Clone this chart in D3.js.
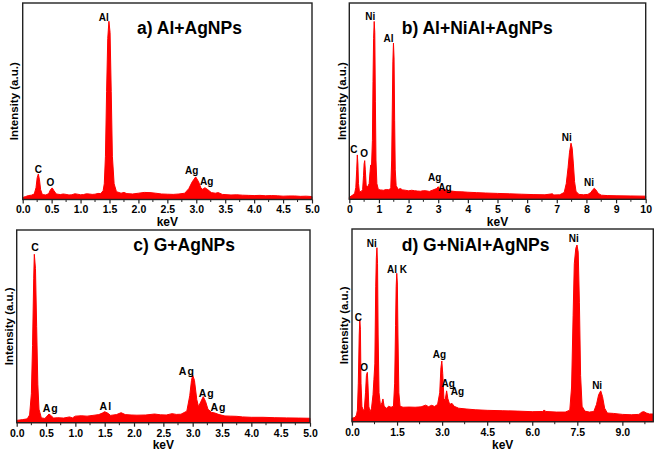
<!DOCTYPE html>
<html><head><meta charset="utf-8">
<script src="https://cdn.jsdelivr.net/npm/d3@7"></script>
<style>
html,body{margin:0;padding:0;background:#fff;}
svg{display:block;font-family:"Liberation Sans",Arial,sans-serif;}
</style></head>
<body>
<svg id="c" width="661" height="451"></svg>
<script>
// ---------- DATA (keV, intensity a.u.) ----------
const aKeV=[0.00,0.05,0.10,0.15,0.20,0.23,0.25,0.27,0.29,0.31,0.34,0.40,0.45,0.48,0.51,0.54,0.58,0.65,0.70,0.75,0.80,0.85,0.90,0.95,1.00,1.05,1.10,1.15,1.20,1.25,1.30,1.35,1.39,1.41,1.43,1.45,1.47,1.49,1.51,1.53,1.55,1.58,1.62,1.70,1.75,1.80,1.90,2.00,2.10,2.20,2.30,2.40,2.50,2.60,2.70,2.80,2.87,2.93,2.99,3.04,3.08,3.11,3.15,3.20,3.26,3.33,3.38,3.45,3.60,3.70,3.80,3.90,4.00,4.10,4.20,4.30,4.40,4.50,4.60,4.70,4.80,4.90,5.00];
const aInt=[1.0,1.5,2.0,2.2,2.8,6,11,13,10,5,2.5,2.3,3,5,5.9,4.5,2.8,2.5,2.8,2.6,2.3,2.4,2.9,2.7,2.4,2.5,2.9,2.8,2.6,2.7,3.1,3.0,4.5,8,22,55,82,90.7,85,55,22,8,4,3.2,3.6,3.0,2.8,3.2,3.6,3.5,3.2,2.8,2.7,2.6,2.8,3.2,5.5,9,11.5,9,5.8,5.2,6,5,3.5,3.2,3.5,2.6,2.3,2.4,2.2,2.1,2.0,2.1,1.9,2.0,1.9,1.7,1.8,1.8,1.6,1.7,1.5];

const bKeV=[0.00,0.10,0.18,0.22,0.25,0.27,0.29,0.31,0.34,0.40,0.45,0.48,0.50,0.52,0.54,0.57,0.62,0.67,0.70,0.72,0.75,0.78,0.80,0.82,0.84,0.86,0.88,0.90,0.93,0.98,1.05,1.15,1.25,1.35,1.40,1.43,1.45,1.47,1.49,1.51,1.53,1.55,1.58,1.65,1.72,1.80,1.90,2.00,2.10,2.20,2.30,2.40,2.50,2.60,2.70,2.80,2.95,3.00,3.05,3.12,3.20,3.30,3.45,3.60,3.80,4.00,4.30,4.60,5.00,5.40,5.80,6.20,6.60,6.85,6.90,7.10,7.25,7.32,7.38,7.43,7.48,7.52,7.56,7.60,7.65,7.75,7.90,8.05,8.15,8.22,8.27,8.32,8.40,8.50,8.70,9.00,9.50,10.00];
const bInt=[1.0,2.0,3.0,6,15,22.6,18,8,4,3.9,5,12,18,19.7,15,7,6.4,8,14,17.5,17,30,60,82,90.6,85,50,20,8,5,4.8,4.6,5,4.8,6,20,45,70,79.6,72,40,15,7,5,5.5,4.8,4.6,4.3,4.6,4.4,4.2,4.1,4.4,4.3,4.0,4.6,5.5,6.4,5,4.8,5,4.6,4.2,3.9,3.8,3.6,3.4,3.2,3.0,2.8,2.6,2.4,2.3,2.8,2.2,2.3,3.5,8,16,24,28.6,26,18,9,4,2.5,2.3,2.5,3.5,5,5.6,4.8,3,2.1,1.9,1.8,1.7,1.6];

const cKeV=[0.00,0.10,0.18,0.22,0.25,0.27,0.29,0.30,0.32,0.34,0.36,0.38,0.42,0.48,0.52,0.55,0.58,0.63,0.70,0.80,0.90,0.95,1.00,1.10,1.20,1.30,1.40,1.46,1.50,1.55,1.60,1.70,1.78,1.85,1.95,2.05,2.20,2.35,2.45,2.55,2.65,2.72,2.80,2.90,2.95,2.98,3.00,3.03,3.07,3.10,3.14,3.18,3.22,3.26,3.32,3.38,3.45,3.55,3.65,3.75,3.85,4.00,4.20,4.40,4.60,4.80,5.00];
const cInt=[1.2,1.6,2.0,4,15,40,75,87.4,80,50,20,7,2.5,2.2,3.5,4.5,3.8,2.4,2.6,2.4,3.0,2.5,3.4,3.6,3.4,3.8,4.2,5,5.7,5,3.8,4.2,5.2,4.2,4,3.9,4.0,4.5,4.1,4.0,4.7,4.3,4.4,6,14,22,24.7,22,12,8.3,11,13.5,11,7,5.4,5,4.2,3.5,3.4,3.3,3.0,2.8,2.8,2.6,2.5,2.4,2.3];

const dKeV=[0.00,0.10,0.15,0.18,0.21,0.24,0.26,0.28,0.30,0.33,0.37,0.41,0.45,0.48,0.51,0.53,0.56,0.60,0.65,0.70,0.73,0.76,0.79,0.81,0.83,0.85,0.87,0.90,0.95,1.00,1.03,1.07,1.15,1.22,1.30,1.38,1.42,1.45,1.47,1.49,1.51,1.53,1.56,1.60,1.70,1.90,2.10,2.30,2.45,2.55,2.65,2.75,2.85,2.92,2.96,2.99,3.02,3.06,3.10,3.15,3.19,3.25,3.33,3.40,3.55,3.80,4.10,4.50,5.00,5.50,6.00,6.35,6.40,6.45,6.80,7.10,7.25,7.31,7.36,7.40,7.45,7.49,7.53,7.57,7.61,7.66,7.75,7.90,8.05,8.14,8.21,8.28,8.34,8.41,8.50,8.70,9.00,9.30,9.55,9.65,9.72,9.80,9.90,10.03];
const dInt=[1.8,2.2,3.5,6,20,45,52.8,48,20,8,6,6.5,15,24,25.6,20,8,5,7,14,22,30,70,85,90.3,82,45,15,8,10,11.8,8,7,8,7.5,8,20,50,70,77,72,45,15,8,7.5,7.6,7.5,7.7,8.6,7.8,8.5,7.9,9,15,28,31.5,25,12,11,16,12,9,9.5,8,7,6.6,6.2,5.9,5.7,5.5,5.2,5.3,6.1,5.3,5.0,5.0,6,18,55,82,90,91.7,88,62,24,8,5.5,5,5.3,9,14,16,13,7,4.5,4.3,3.8,3.6,3.8,5,5.2,4.5,4,4];

// tick labels
const aTicks=["0.0","0.5","1.0","1.5","2.0","2.5","3.0","3.5","4.0","4.5","5.0"];
const bTicks=["0","1","2","3","4","5","6","7","8","9","10"];
const cTicks=["0.0","0.5","1.0","1.5","2.0","2.5","3.0","3.5","4.0","4.5","5.0"];
const dTicks=["0.0","1.5","3.0","4.5","6.0","7.5","9.0"];

// titles
const titles=["a) Al+AgNPs","b) Al+NiAl+AgNPs","c) G+AgNPs","d) G+NiAl+AgNPs"];

// peak annotations: [text, keV, intensity]
const aPeaks=[["Al",1.40,90.7],["C",0.27,13.7],["O",0.48,6.9],["Ag",2.92,13],["Ag",3.18,7.2]];
const bPeaks=[["Ni",0.71,91.1],["Al",1.32,80.1],["C",0.15,23.5],["O",0.50,21.4],["Ag",2.88,9.3],["Ag",3.23,4.2],["Ni",7.34,29.6],["Ni",8.09,6.9]];
const cPeaks=[["C",0.32,89.3],["Ag",0.58,5.7],["Al",1.52,6.6],["Ag",2.90,24.8],["Ag",3.24,13.5],["Ag",3.44,6.1]];
const dPeaks=[["Ni",0.66,90.8],["Al K",1.50,77],["Ni",7.38,93.1],["C",0.21,52.3],["O",0.40,26.3],["Ag",2.91,33.2],["Ag",3.20,18.2],["Ag",3.51,13.9],["Ni",8.16,16.8]];

// ---------- LAYOUT ----------
const panels=[
 {E:aKeV,I:aInt,ticks:aTicks,minor:0.25,max:5,title:titles[0],peaks:aPeaks,
  L:22.7,R:312,T:3,B:199.5,tx:137,ty:33.5,ylx:13.5,kevY:226,pfs:10,pls:0},
 {E:bKeV,I:bInt,ticks:bTicks,minor:0.5,max:10,title:titles[1],peaks:bPeaks,
  L:349.3,R:645.7,T:3,B:199.3,tx:401.7,ty:33.5,ylx:341.7,kevY:226,pfs:10,pls:0},
 {E:cKeV,I:cInt,ticks:cTicks,minor:0.25,max:5,title:titles[2],peaks:cPeaks,
  L:16.7,R:310,T:230,B:422.7,tx:133.3,ty:251,ylx:8.5,kevY:449,pfs:10.5,pls:1},
 {E:dKeV,I:dInt,ticks:dTicks,minor:0.75,max:10.03,title:titles[3],peaks:dPeaks,
  L:352,R:653.3,T:229,B:421.7,tx:401.7,ty:251,ylx:343.5,kevY:449,pfs:10,pls:0}
];

const svg=d3.select("#c");
const RED="#ff0000";

panels.forEach(p=>{
  const g=svg.append("g");
  const x=d3.scaleLinear().domain([0,p.max]).range([p.L,p.R]);
  const y=d3.scaleLinear().domain([0,100]).range([p.B,p.T]);
  const pts=p.E.map((e,i)=>({e:e,v:p.I[i]}));
  const area=d3.area().x(d=>x(d.e)).y0(y(0)).y1(d=>y(d.v));
  g.append("path").datum(pts).attr("d",area).attr("fill",RED).attr("stroke",RED).attr("stroke-width",1).attr("stroke-linejoin","round");

  // frame
  g.append("rect").attr("x",p.L).attr("y",p.T).attr("width",p.R-p.L).attr("height",p.B-p.T)
   .attr("fill","none").attr("stroke","#222").attr("stroke-width",1.4);

  // major ticks
  const tv=p.ticks.map(Number);
  const ax=d3.axisBottom(x).tickValues(tv).tickFormat((d,i)=>p.ticks[i]).tickSize(4).tickSizeOuter(0);
  const axg=g.append("g").attr("transform",`translate(0,${p.B})`).call(ax);
  axg.select(".domain").remove();
  axg.selectAll(".tick line").attr("stroke","#222").attr("stroke-width",1.2);
  axg.selectAll(".tick text").attr("font-size",10.5).attr("font-weight","bold").attr("fill","#000").attr("dy","0.95em").attr("y",4);
  // minor ticks
  const minors=d3.range(0,p.max+1e-6,p.minor).filter(v=>!tv.some(t=>Math.abs(t-v)<1e-6));
  g.selectAll(null).data(minors).enter().append("line")
   .attr("x1",d=>x(d)).attr("x2",d=>x(d)).attr("y1",p.B).attr("y2",p.B+2.5)
   .attr("stroke","#222").attr("stroke-width",1);

  // keV label
  g.append("text").attr("x",(p.L+p.R)/2).attr("y",p.kevY).attr("text-anchor","middle")
   .attr("font-size",12).attr("font-weight","bold").attr("fill","#000").text("keV");
  // y label
  g.append("text").attr("transform",`translate(${p.ylx},${(p.T+p.B)/2}) rotate(-90)`)
   .attr("text-anchor","middle").attr("dy","0.35em").attr("font-size",11.5).attr("font-weight","bold").attr("fill","#000")
   .text("Intensity (a.u.)");
  // title
  g.append("text").attr("x",p.tx).attr("y",p.ty).attr("font-size",17.5).attr("font-weight","bold").attr("fill","#000").text(p.title);
  // peaks
  g.selectAll(null).data(p.peaks).enter().append("text")
   .attr("x",d=>x(d[1])).attr("y",d=>y(d[2])).attr("text-anchor","middle")
   .attr("font-size",p.pfs).attr("font-weight","bold").attr("fill","#000")
   .attr("letter-spacing",p.pls).text(d=>d[0]);
});
</script>
</body></html>
